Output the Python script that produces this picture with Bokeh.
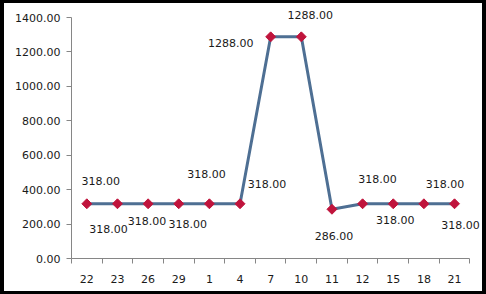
from bokeh.plotting import figure
from bokeh.models import ColumnDataSource, Range1d, FixedTicker, NumeralTickFormatter, LabelSet
from bokeh.core.properties import value
from bokeh.embed import file_html
from bokeh.resources import INLINE
import math

categories = ["22", "23", "26", "29", "1", "4", "7", "10", "11", "12", "15", "18", "21"]
prices = [318, 318, 318, 318, 318, 318, 1288, 1288, 286, 318, 318, 318, 318]
y_ticks = [0, 200, 400, 600, 800, 1000, 1200, 1400]

# label placement (screen px offsets from each point)
label_dx = [14, -9, -1, 9, -3, 27, -40, 9, 2, 15, 2, 21, 6]
label_dy = [-23, 25, 17, 20, -30, -20, 6, -22, 27, -25, 16, -20, 21]

n = len(categories)
slot = [i + 0.5 for i in range(n)]  # category slot centres

src = ColumnDataSource(dict(
    x=slot, y=prices,
    label=["%.2f" % v for v in prices],
    dx=label_dx, dy=[-d for d in label_dy],
))

FONT = "DejaVu Sans"

p = figure(x_range=Range1d(0, n + 0.38), y_range=Range1d(0, 1470),
           width=486, height=294, output_backend="svg", toolbar_location=None,
           min_border_left=67, min_border_right=9, min_border_top=2, min_border_bottom=39)
p.styles = {"border-left": "4px solid black", "border-right": "4px solid black",
            "border-top": "3px solid black", "border-bottom": "3px solid black"}
p.outline_line_color = None
p.xgrid.grid_line_color = None
p.ygrid.grid_line_color = None
p.background_fill_color = "white"
p.border_fill_color = "white"

yax = p.yaxis[0]
yax.bounds = (0, 1400)
yax.ticker = FixedTicker(ticks=y_ticks)
yax.formatter = NumeralTickFormatter(format="0.00")
yax.axis_line_color = "#868686"
yax.major_tick_line_color = "#868686"
yax.major_tick_out = 5
yax.major_tick_in = 0
yax.minor_tick_line_color = None
yax.major_label_text_font = FONT
yax.major_label_text_font_size = "11px"
yax.major_label_text_color = "#1a1a1a"
yax.major_label_standoff = 6

xax = p.xaxis[0]
xax.bounds = (0, n)
xax.ticker = FixedTicker(ticks=slot, minor_ticks=list(range(n + 1)))
xax.major_label_overrides = {s: c for s, c in zip(slot, categories)}
xax.axis_line_color = "#868686"
xax.major_tick_line_color = None
xax.minor_tick_line_color = "#868686"
xax.minor_tick_out = 5
xax.minor_tick_in = 0
xax.major_tick_out = 0
xax.major_tick_in = 0
xax.major_label_text_font = FONT
xax.major_label_text_font_size = "11px"
xax.major_label_text_color = "#1a1a1a"
xax.major_label_standoff = 11

p.line("x", "y", source=src, line_color="#4E6F93", line_width=3)
p.scatter("x", "y", source=src, marker="square", size=7, angle=math.pi / 4,
          fill_color="#C0143C", line_color="#C0143C")
labels = LabelSet(x="x", y="y", text="label", source=src, x_offset="dx", y_offset="dy",
                  text_align="center", text_baseline="middle", text_font=value(FONT),
                  text_font_size="11px", text_color="#1a1a1a")
p.add_layout(labels)

open("out.html", "w").write(file_html(p, INLINE))
